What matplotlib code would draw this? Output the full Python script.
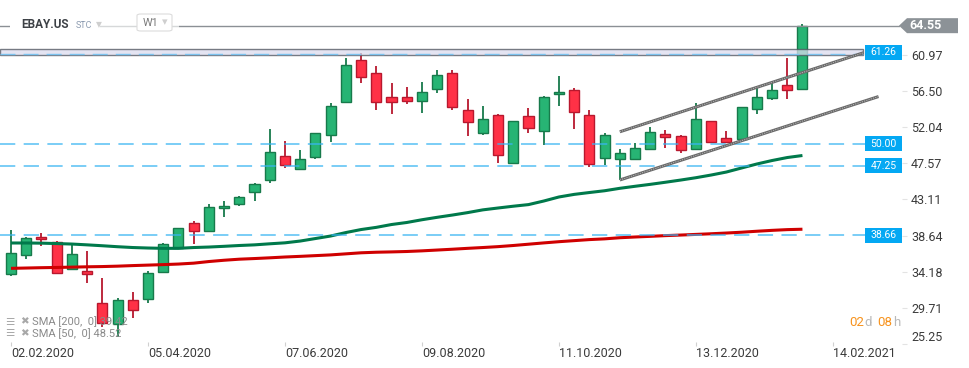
import numpy as np
import pandas as pd
import matplotlib
matplotlib.use('Agg')
import matplotlib.pyplot as plt
from matplotlib.patches import Rectangle, Polygon, FancyBboxPatch
import matplotlib.transforms as mtransforms

plt.rcParams['font.family'] = ['Roboto', 'DejaVu Sans']

# ---------------- data ----------------
symbol = 'EBAY.US'
start_date = '2020-02-02'
opens = [33.85, 36.23, 38.42, 37.80, 34.51, 34.26, 30.27, 27.72, 30.68, 30.77,
         34.17, 37.06, 40.15, 39.23, 42.00, 42.49, 43.98, 45.46, 48.42, 46.89,
         48.30, 51.01, 55.16, 60.31, 58.67, 55.70, 55.70, 55.21, 56.69, 58.67,
         54.10, 51.26, 53.48, 47.56, 53.36, 51.51, 56.07, 56.60, 53.52, 48.17,
         48.09, 48.05, 49.28, 51.17, 50.89, 49.28, 52.74, 50.64, 50.52, 54.22,
         55.58, 57.19, 56.69]
highs = [39.32, 38.40, 38.91, 37.96, 37.68, 36.73, 33.36, 30.96, 31.70, 34.26,
         37.75, 39.60, 40.43, 42.49, 42.90, 43.50, 45.16, 51.79, 50.31, 49.20,
         51.30, 54.96, 60.59, 61.21, 59.57, 57.51, 57.01, 57.63, 59.07, 59.07,
         55.49, 54.67, 53.64, 52.80, 54.38, 55.86, 58.33, 56.85, 54.14, 51.33,
         49.28, 50.02, 52.07, 51.67, 51.05, 55.04, 52.80, 51.58, 54.55, 56.81,
         57.43, 60.52, 64.70]
lows = [33.64, 35.70, 37.35, 33.85, 34.38, 32.74, 27.38, 26.15, 28.49, 30.35,
        34.05, 37.00, 37.59, 39.15, 40.96, 42.32, 42.94, 45.16, 47.01, 46.77,
        48.12, 50.22, 54.96, 57.43, 54.14, 53.64, 54.88, 53.80, 56.27, 54.14,
        50.96, 51.09, 47.56, 47.50, 51.33, 49.85, 54.67, 51.75, 47.14, 47.35,
        45.49, 48.00, 49.20, 49.48, 48.79, 49.20, 50.05, 50.10, 50.45, 53.60,
        55.37, 55.46, 56.60]
closes = [36.44, 38.30, 38.17, 33.98, 36.32, 33.85, 27.80, 30.68, 29.44, 33.98,
          37.59, 39.53, 39.23, 42.20, 42.25, 43.43, 44.96, 48.91, 47.38, 48.05,
          51.26, 54.63, 59.69, 58.25, 55.09, 55.09, 55.21, 56.32, 58.46, 54.47,
          52.62, 52.99, 48.54, 52.74, 51.88, 55.70, 56.32, 53.85, 47.43, 51.01,
          48.79, 49.41, 51.38, 50.84, 49.16, 52.99, 50.15, 50.15, 54.47, 55.70,
          56.57, 56.57, 64.55]
sma50 = [37.72, 37.72, 37.70, 37.65, 37.59, 37.49, 37.38, 37.26, 37.16, 37.10,
         37.06, 37.06, 37.16, 37.22, 37.31, 37.41, 37.49, 37.62, 37.74, 37.96,
         38.27, 38.58, 39.01, 39.38, 39.65, 40.00, 40.25, 40.59, 40.89, 41.17,
         41.47, 41.81, 42.04, 42.26, 42.46, 42.90, 43.40, 43.72, 43.95, 44.17,
         44.47, 44.72, 44.96, 45.22, 45.49, 45.78, 46.11, 46.48, 46.98, 47.47,
         47.90, 48.27, 48.52]
sma200 = [34.59, 34.63, 34.67, 34.70, 34.74, 34.78, 34.81, 34.86, 34.93, 34.99,
          35.05, 35.12, 35.23, 35.43, 35.59, 35.72, 35.80, 35.89, 35.99, 36.07,
          36.16, 36.25, 36.38, 36.51, 36.58, 36.62, 36.67, 36.75, 36.85, 36.95,
          37.06, 37.16, 37.27, 37.41, 37.57, 37.73, 37.88, 38.01, 38.14, 38.23,
          38.37, 38.46, 38.54, 38.63, 38.70, 38.78, 38.86, 38.95, 39.05, 39.17,
          39.28, 39.37, 39.42]
dashed_levels = [50.00, 47.25, 38.66]
zone_level = 61.26
zone_bounds = [60.90, 61.65]
last_price = 64.55
channel_upper = [(40, 51.45), (56, 61.20)]   # (week index, price)
channel_lower = [(40, 45.50), (57, 55.80)]
ytick_values = [25.25, 29.71, 34.18, 38.64, 43.11, 47.57, 52.04, 56.50, 60.97]
xtick_labels = ['02.02.2020', '05.04.2020', '07.06.2020', '09.08.2020',
                '11.10.2020', '13.12.2020', '14.02.2021']
legend_lines = ['SMA [200,  0] 39.42', 'SMA [50,  0] 48.52']
countdown = ['02', 'd', '08', 'h']

# ---------------- figure ----------------
W, H = 970, 368
fig = plt.figure(figsize=(W / 100, H / 100), dpi=100)
fig.patch.set_facecolor('white')

def fx(x):
    return x / W

def fy(y):
    return 1 - y / H

ax_right_px = 902
ax_bottom_px = 344
ax = fig.add_axes([0, fy(ax_bottom_px), fx(ax_right_px), 1 - fy(ax_bottom_px)])
ax.set_facecolor('white')
for s in ax.spines.values():
    s.set_visible(False)

n = len(opens)
x = np.arange(n)
px_per_week = 15.22
x0_px = 11
ax.set_xlim(-x0_px / px_per_week, (ax_right_px - x0_px) / px_per_week)
px_per_unit = 8.1
ax.set_ylim(25.25 - 0.0001, 25.25 + ax_bottom_px / px_per_unit)

# candles
o = np.array(opens); c = np.array(closes); h = np.array(highs); l = np.array(lows)
up = c >= o
g_fill, g_edge = '#27b474', '#177a4b'
r_fill, r_edge = '#ff3146', '#b8182e'
edge_cols = np.where(up, g_edge, r_edge)
fill_cols = np.where(up, g_fill, r_fill)
ax.vlines(x, l, h, colors=edge_cols, lw=1.3, zorder=2)
bottoms = np.minimum(o, c)
heights = np.maximum(np.abs(c - o), 0.22)
ax.bar(x, heights, bottom=bottoms, width=0.66, color=fill_cols,
       edgecolor=edge_cols, linewidth=1.0, zorder=3)

# moving averages
ax.plot(x, sma50, color='#00794b', lw=2.2, zorder=4, solid_capstyle='butt')
ax.plot(x, sma200, color='#cf0000', lw=2.2, zorder=4, solid_capstyle='butt')

blend = mtransforms.blended_transform_factory(ax.transAxes, ax.transData)
lab_x0 = 865 / ax_right_px
lab_w = 37 / ax_right_px
lab_h = 15 / px_per_unit

# zone band
ax.add_patch(Rectangle((0, zone_bounds[0]), 863 / ax_right_px, zone_bounds[1] - zone_bounds[0],
                       transform=blend, facecolor='#dcdcee', alpha=0.75,
                       edgecolor='#4d525c', lw=1.0, zorder=5))
ax.plot([0, 863 / ax_right_px], [zone_level - 0.15, zone_level - 0.15], transform=blend,
        color='#7cc3ef', lw=1.0, dashes=(10.8, 5.8), zorder=6)

# dashed levels
for lv in dashed_levels:
    ax.plot([0, lab_x0], [lv, lv], transform=blend, color='#38b4f2', alpha=0.85,
            lw=1.1, dashes=(10.0, 5.5), zorder=5)

# blue labels
for lv in [zone_level] + dashed_levels:
    ax.add_patch(Rectangle((lab_x0, lv - lab_h / 2), lab_w, lab_h, transform=blend,
                           facecolor='#04a8f3', edgecolor='none', zorder=7, clip_on=False))
    ax.text(lab_x0 + lab_w / 2, lv, f'{lv:.2f}', transform=blend, color='white',
            fontsize=7.5, ha='center', va='center', zorder=8, clip_on=False)

# last price line + tag
ax.plot([0, 899 / ax_right_px], [last_price, last_price], transform=blend,
        color='#8b9095', lw=1.0, zorder=5, clip_on=False)
tag = [(899, 0), (907, -7.5), (958, -7.5), (958, 7.5), (907, 7.5)]
tag_pts = [(px_ / ax_right_px, last_price + dy / px_per_unit) for px_, dy in tag]
ax.add_patch(Polygon(tag_pts, closed=True, transform=blend, facecolor='#8c9297',
                     edgecolor='none', zorder=7, clip_on=False))
ax.text(925.5 / ax_right_px, last_price, f'{last_price:.2f}', transform=blend,
        color='white', fontsize=9, fontweight='bold', ha='center', va='center',
        zorder=8, clip_on=False)

# channel lines
for seg in (channel_upper, channel_lower):
    xs = [p[0] for p in seg]
    ys = [p[1] for p in seg]
    ax.plot(xs, ys, color='#6a6a6a', lw=2.2, zorder=6, solid_capstyle='butt')
    ax.plot(xs, ys, color='#b8b8b8', lw=0.7, dashes=(1.2, 1.2), zorder=6.5)

# axes ticks
ax.yaxis.tick_right()
ax.set_yticks(ytick_values)
ax.set_yticklabels([f'{v:.2f}' for v in ytick_values])
ax.tick_params(axis='y', direction='out', length=3.6, width=0.8, color='#e3e3e3',
               pad=2.9, labelsize=9, labelcolor='#3b3b3b')
ylabels = ax.get_yticklabels()
ylabels[0].set_va('bottom')

start = pd.Timestamp(start_date)
xt_pos = [(pd.Timestamp(pd.to_datetime(s, format='%d.%m.%Y')) - start).days / 7 for s in xtick_labels]
ax.set_xticks(xt_pos)
ax.set_xticklabels(xtick_labels)
ax.tick_params(axis='x', direction='inout', length=3, width=0.8, color='#d0d0d0',
               pad=1.0, labelsize=9, labelcolor='#3b3b3b')
for t in ax.get_xticklabels():
    t.set_ha('left')

# ---------------- overlays (header, legend, countdown) ----------------
fig.add_artist(Rectangle((fx(10), fy(36)), fx(100) - fx(10), fy(14) - fy(36),
                         transform=fig.transFigure, facecolor='white', edgecolor='none', zorder=10))
fig.add_artist(Rectangle((fx(100), fy(36)), fx(179) - fx(100), fy(14) - fy(36),
                         transform=fig.transFigure, facecolor='white', alpha=0.65,
                         edgecolor='none', zorder=10))
fig.add_artist(FancyBboxPatch((fx(137), fy(31)), fx(172) - fx(137), fy(14) - fy(31),
                              boxstyle='round,pad=0,rounding_size=0.004',
                              transform=fig.transFigure, facecolor='white',
                              edgecolor='#dcdcdc', lw=0.8, zorder=11))
fig.text(fx(21), fy(24.5), symbol, fontsize=8.5, fontweight='bold', color='#3d4146',
         ha='left', va='center', zorder=12)
fig.text(fx(76), fy(25.3), 'STC', fontsize=6.5, color='#8c9bb0', ha='left', va='center',
         zorder=12)
fig.text(fx(99), fy(24), '▾', fontsize=8.5, color='#cfcfcf', ha='center', va='center',
         zorder=12, family=['DejaVu Sans'])
fig.text(fx(143), fy(23), 'W1', fontsize=7.8, color='#7a7a7a', ha='left', va='center',
         zorder=12)
fig.text(fx(164.5), fy(22.5), '▾', fontsize=8, color='#cfcfcf', ha='center', va='center',
         zorder=12, family=['DejaVu Sans'])

for k, txt in enumerate(legend_lines):
    yy = 321.7 + k * 11.6
    fig.text(fx(10), fy(yy), '☰', fontsize=7.5, color='#a8a8a8', ha='center', va='center',
             zorder=1, family=['DejaVu Sans'])
    fig.text(fx(24), fy(yy), '✖', fontsize=7.5, color='#a8a8a8', ha='center', va='center',
             zorder=1, family=['DejaVu Sans'])
    fig.text(fx(32), fy(yy), txt, fontsize=8, color='#8a8a8a', ha='left', va='center',
             zorder=1)

cd_x = [849, 864.5, 877, 893]
cd_col = ['#f7931e', '#b9b9b9', '#f7931e', '#b9b9b9']
for xx, txt, col in zip(cd_x, countdown, cd_col):
    fig.text(fx(xx), fy(322.5), txt, fontsize=9.5, color=col, ha='left', va='center',
             zorder=12)

fig.savefig('out.png', dpi=100, facecolor='white')
